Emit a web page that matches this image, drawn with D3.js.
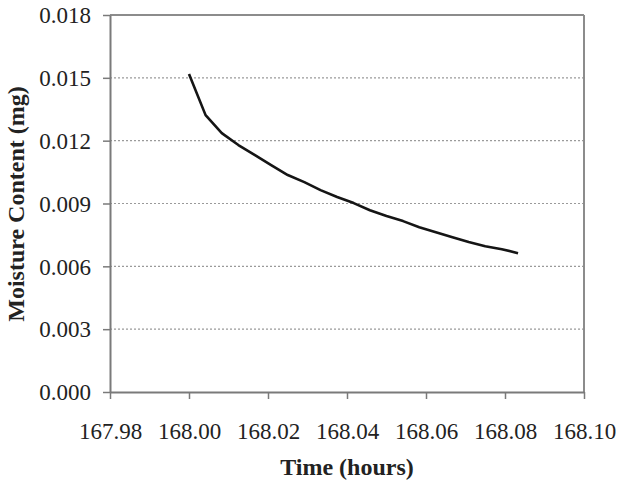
<!DOCTYPE html>
<html><head><meta charset="utf-8">
<script src="https://cdn.jsdelivr.net/npm/d3@7"></script>
<style>html,body{margin:0;padding:0;background:#fff;} text{font-family:"Liberation Serif","Times New Roman",serif;}</style>
</head><body>
<svg id="c" width="620" height="481"></svg>
<script>
const timeHours = [168.0000,168.0042,168.0083,168.0125,168.0167,168.0208,168.0250,168.0292,168.0333,168.0375,168.0417,168.0458,168.0500,168.0542,168.0583,168.0625,168.0667,168.0708,168.0750,168.0792,168.0833];
const moisture = [0.01518,0.01322,0.01236,0.01179,0.01131,0.01083,0.01036,0.01002,0.00964,0.00931,0.00902,0.00868,0.00840,0.00816,0.00787,0.00763,0.00739,0.00716,0.00696,0.00682,0.00663];
const xTicks = [167.98,168.00,168.02,168.04,168.06,168.08,168.10];
const yTicks = [0.000,0.003,0.006,0.009,0.012,0.015,0.018];

const L=110, R=584, T=15, B=392;
const svg=d3.select("#c");
const x=d3.scaleLinear().domain([167.98,168.10]).range([L,R]);
const y=d3.scaleLinear().domain([0,0.018]).range([B,T]);
const font="Liberation Serif";

// gridlines
svg.append("g").selectAll("line").data(yTicks.filter(v=>v>0&&v<0.018)).join("line")
  .attr("x1",L).attr("x2",R).attr("y1",d=>y(d)).attr("y2",d=>y(d))
  .attr("stroke","#9a9a9a").attr("stroke-width",1.2).attr("stroke-dasharray","2,2");

// frame top/right
svg.append("line").attr("x1",L).attr("x2",R).attr("y1",T).attr("y2",T).attr("stroke","#8c8c8c").attr("stroke-width",2);
svg.append("line").attr("x1",R).attr("x2",R).attr("y1",T).attr("y2",B).attr("stroke","#8c8c8c").attr("stroke-width",2);

const xAxis=svg.append("g").attr("transform",`translate(0,${B})`)
  .call(d3.axisBottom(x).tickValues(xTicks).tickFormat(d3.format(".2f")).tickSize(7).tickSizeOuter(0));
const yAxis=svg.append("g").attr("transform",`translate(${L},0)`)
  .call(d3.axisLeft(y).tickValues(yTicks).tickFormat(d3.format(".3f")).tickSize(7).tickSizeOuter(0));
[xAxis,yAxis].forEach(a=>{
  a.attr("font-family",font).attr("font-size",23);
  a.select(".domain").attr("stroke","#7a7a7a").attr("stroke-width",2);
  a.selectAll(".tick line").attr("stroke","#7a7a7a").attr("stroke-width",1.5);
  a.selectAll("text").attr("font-family",font).attr("font-size",23).attr("fill","#222");
});
xAxis.selectAll("text").attr("dy",null).attr("y",47);
yAxis.selectAll("text").attr("x",-19).attr("dy","0.34em");

// line
svg.append("path").datum(timeHours.map((t,i)=>[t,moisture[i]]))
  .attr("d",d3.line().x(d=>x(d[0])).y(d=>y(d[1])))
  .attr("fill","none").attr("stroke","#151515").attr("stroke-width",2.6).attr("stroke-linejoin","round");

svg.append("text").attr("x",347).attr("y",475).attr("text-anchor","middle")
  .attr("font-family",font).attr("font-weight","bold").attr("font-size",24).attr("fill","#222").text("Time (hours)");
svg.append("text").attr("transform","translate(24,204) rotate(-90)").attr("text-anchor","middle")
  .attr("font-family",font).attr("font-weight","bold").attr("font-size",24).attr("fill","#222").text("Moisture Content (mg)");
</script>
</body></html>
